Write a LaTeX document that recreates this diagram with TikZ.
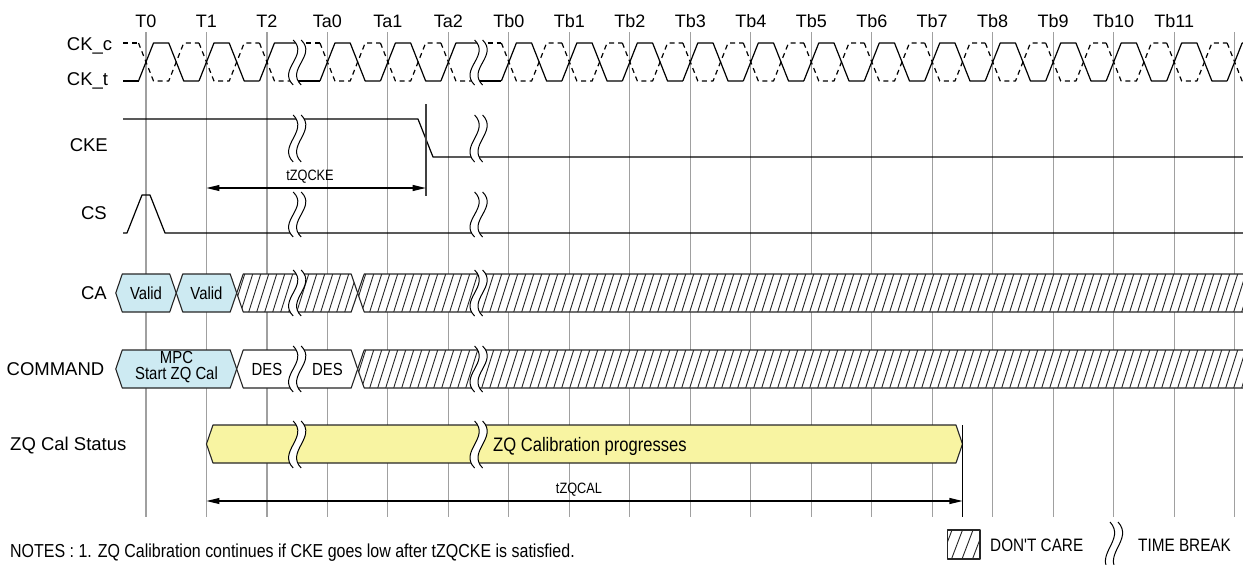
\documentclass[tikz,border=0pt]{standalone}
\usepackage{fontspec}
\setmainfont{Liberation Sans}
\newfontfamily\narrowfont[FakeStretch=0.85]{Liberation Sans}
\usetikzlibrary{arrows.meta}

\definecolor{validblue}{RGB}{205,234,242}
\definecolor{zqyellow}{RGB}{248,244,162}
\definecolor{gridgray}{RGB}{160,160,160}

% bus value: hexagon from xl to xr around yc
\newcommand{\busbox}[4]{%
  \draw[bus,#4] (#1,#3) -- ({#1+6.5},{#3-19}) -- ({#2-6.5},{#3-19}) -- (#2,#3)
    -- ({#2-6.5},{#3+19}) -- ({#1+6.5},{#3+19}) -- cycle;}

% don't care value: same hexagon, hatched
\newcommand{\dcbox}[3]{%
  \fill[white] (#1,#3) -- ({#1+6.5},{#3-19}) -- ({#2-6.5},{#3-19}) -- (#2,#3)
    -- ({#2-6.5},{#3+19}) -- ({#1+6.5},{#3+19}) -- cycle;
  \begin{scope}
    \clip (#1,#3) -- ({#1+6.5},{#3-19}) -- ({#2-6.5},{#3-19}) -- (#2,#3)
      -- ({#2-6.5},{#3+19}) -- ({#1+6.5},{#3+19}) -- cycle;
    \pgfmathsetmacro{\hfirst}{#1-12}
    \pgfmathsetmacro{\hsecond}{#1-4}
    \foreach \hx in {\hfirst,\hsecond,...,#2}
      \draw[hatch_line] (\hx,{#3+19}) -- ++(12,-38);
  \end{scope}
  \busbox{#1}{#2}{#3}{}}

% time break: two wavy lines, white between them
\newcommand{\timebreak}[3]{%
  \pgfmathsetmacro{\bka}{#2+0.35*(#3-#2)}
  \pgfmathsetmacro{\bkb}{#3-0.35*(#3-#2)}
  \fill[white] ({#1-4},#2) .. controls ({#1+12},\bka) and ({#1-20},\bkb) .. ({#1-4},#3)
    -- ({#1+4},#3) .. controls ({#1-12},\bkb) and ({#1+20},\bka) .. ({#1+4},#2) -- cycle;
  \draw[break_line] ({#1-4},#2) .. controls ({#1+12},\bka) and ({#1-20},\bkb) .. ({#1-4},#3);
  \draw[break_line] ({#1+4},#2) .. controls ({#1+20},\bka) and ({#1-12},\bkb) .. ({#1+4},#3);}

\begin{document}
\begin{tikzpicture}[x=1pt, y=-1pt]

    % Styles
    \tikzstyle{grid_line} = [draw=gridgray, line width=1.1pt]
    \tikzstyle{clk_t} = [draw=black, line width=1.2pt, line join=round]
    \tikzstyle{clk_c} = [clk_t, dash pattern=on 5pt off 4pt]
    \tikzstyle{sig_line} = [draw=black, line width=1.2pt, line join=round]
    \tikzstyle{bus} = [draw=black!85, line width=1.1pt, line join=round]
    \tikzstyle{hatch_line} = [draw=black!85, line width=0.9pt]
    \tikzstyle{break_line} = [draw=black, line width=1pt]
    \tikzstyle{mark_line} = [draw=black!75, line width=1.8pt]
    \tikzstyle{dim_arrow} = [line width=1.1pt,
        {Triangle[length=13pt,width=6pt]}-{Triangle[length=13pt,width=6pt]}]
    \tikzstyle{tick_label} = [font=\fontsize{18}{20}\selectfont, inner sep=0pt, anchor=base]
    \tikzstyle{sig_label} = [font=\fontsize{18.5}{20}\selectfont, inner sep=0pt]
    \tikzstyle{bus_text} = [font=\narrowfont\fontsize{17.5}{19}\selectfont, inner sep=0pt, anchor=base]
    \tikzstyle{dim_text} = [font=\narrowfont\fontsize{15}{17}\selectfont, inner sep=0pt, anchor=base]
    \tikzstyle{note_text} = [font=\narrowfont\fontsize{18}{20}\selectfont, inner sep=0pt, anchor=base west]

    \useasboundingbox (0,0) rectangle (1243,565);
    \clip (0,0) rectangle (1243,565);

    % Break positions (between T2/Ta0 and Ta2/Tb0)
    \def\xbreakA{297.2}
    \def\xbreakB{478.6}

    % Clock grid and edge names, 60.48 apart
    \foreach \name [count=\k from 0] in {T0,T1,T2,Ta0,Ta1,Ta2,Tb0,Tb1,Tb2,Tb3,Tb4,Tb5,Tb6,Tb7,Tb8,Tb9,Tb10,Tb11} {
        \draw[grid_line] ({146+\k*60.48},32) -- ({146+\k*60.48},517);
        \node[tick_label] (tick\k) at ({146+\k*60.48},27) {\name};
    }
    \draw[grid_line] (1234.64,32) -- (1234.64,517);

    % CK_t (solid) and CK_c (dashed)
    \draw[clk_t] (123,81) -- (138.5,81);
    \draw[clk_c] (123,43) -- (138.5,43);
    \foreach \k in {0,...,18} {
        \pgfmathsetmacro{\xt}{146+\k*60.48}
        \def\brk{0}
        \ifnum\k=2 \def\brk{1}\fi
        \ifnum\k=5 \def\brk{1}\fi
        \ifnum\brk=1
            \draw[clk_t] ({\xt-7.5},81) -- ({\xt+7.5},43) -- ({\xt+30.24},43);
            \draw[clk_t] ({\xt+30.24},81) -- ({\xt+52.98},81);
            \draw[clk_c] ({\xt-7.5},43) -- ({\xt+7.5},81) -- ({\xt+30.24},81);
            \draw[clk_c] ({\xt+30.24},43) -- ({\xt+52.98},43);
        \else
            \draw[clk_t] ({\xt-7.5},81) -- ({\xt+7.5},43) -- ({\xt+22.74},43) -- ({\xt+37.74},81) -- ({\xt+52.98},81);
            \draw[clk_c] ({\xt-7.5},43) -- ({\xt+7.5},81) -- ({\xt+22.74},81) -- ({\xt+37.74},43) -- ({\xt+52.98},43);
        \fi
    }

    % CKE and CS
    \draw[sig_line] (123,119) -- (418,119) -- (433,157) -- (1250,157);
    \draw[sig_line] (123,233) -- (127,233) -- (142,195) -- (150,195) -- (165,233) -- (1250,233);

    % CA bus
    \busbox{115.76}{176.24}{293}{fill=validblue}
    \busbox{176.24}{236.72}{293}{fill=validblue}
    \dcbox{236.72}{357.68}{293}
    \dcbox{357.68}{1270}{293}

    % COMMAND bus
    \busbox{115.76}{236.72}{369}{fill=validblue}
    \busbox{236.72}{357.68}{369}{fill=white}
    \dcbox{357.68}{1270}{369}

    % ZQ calibration status
    \busbox{206.48}{962.48}{444}{fill=zqyellow}

    % Time breaks
    \foreach \xb in {\xbreakA,\xbreakB} {
        \timebreak{\xb}{40}{85}
        \timebreak{\xb}{115}{162}
        \timebreak{\xb}{192}{237}
        \timebreak{\xb}{270}{316}
        \timebreak{\xb}{346}{392}
        \timebreak{\xb}{421}{468}
    }

    % tZQCKE
    \draw[mark_line] (425.7,104) -- (425.7,196);
    \coordinate (cke_start) at (206.48,188);
    \coordinate (cke_mark) at (425.7,188);
    \draw[dim_arrow] (cke_start) -- (cke_mark);
    \node[dim_text] (tzqcke) at (310,180) {tZQCKE};

    % tZQCAL
    \draw[sig_line] (962.48,425) -- (962.48,517);
    \coordinate (cal_start) at (206.48,501);
    \coordinate (cal_end) at (962.48,501);
    \draw[dim_arrow] (cal_start) -- (cal_end);
    \node[dim_text] (tzqcal) at (579,493.4) {tZQCAL};

    % Signal names
    \node[sig_label, anchor=base west] (ckc_label) at (66.7,50) {CK\_c};
    \node[sig_label, anchor=base west] (ckt_label) at (66.7,85) {CK\_t};
    \node[sig_label, anchor=base east] (cke_label) at (108,151.5) {CKE};
    \node[sig_label, anchor=base east] (cs_label) at (107,219.5) {CS};
    \node[sig_label, anchor=base east] (ca_label) at (107,299.5) {CA};
    \node[sig_label, anchor=base east] (cmd_label) at (104.5,375.5) {COMMAND};
    \node[sig_label, anchor=base west] (zq_label) at (10,450) {ZQ Cal Status};

    % Bus values
    \node[bus_text] (ca_valid0) at (146,299.3) {Valid};
    \node[bus_text] (ca_valid1) at (206.48,299.3) {Valid};
    \node[bus_text] (cmd_mpc) at (176.5,363.3) {MPC};
    \node[bus_text] (cmd_start) at (176.5,379) {Start ZQ Cal};
    \node[bus_text] (cmd_des0) at (266.96,375.3) {DES};
    \node[bus_text] (cmd_des1) at (327.44,375.3) {DES};
    \node[bus_text, anchor=base west, font=\narrowfont\fontsize{19.5}{21}\selectfont] (zq_text) at (493,451) {ZQ Calibration progresses};

    % Notes and legend
    \node[note_text, font=\narrowfont\fontsize{18.8}{20}\selectfont] (notes) at (10,557) {NOTES : 1. ZQ Calibration continues if CKE goes low after tZQCKE is satisfied.};
    \draw[bus, fill=white] (947.7,530) rectangle (980,559);
    \begin{scope}
        \clip (947.7,530) rectangle (980,559);
        \foreach \hx in {941,951.5,962,972.5}
            \draw[hatch_line] (\hx,559) -- ++(11,-29);
    \end{scope}
    \node[note_text] (dc_text) at (990,551.7) {DON'T CARE};
    \timebreak{1114}{522}{572}
    \node[note_text] (tb_text) at (1138,551.7) {TIME BREAK};

\end{tikzpicture}
\end{document}
